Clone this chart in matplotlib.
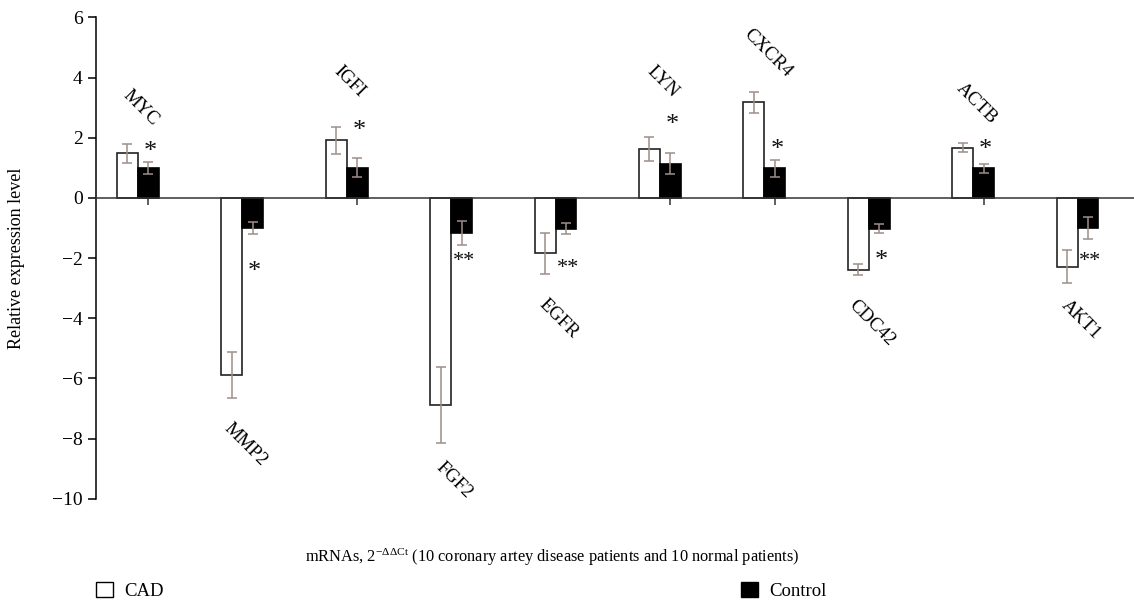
import matplotlib
matplotlib.use("Agg")
import matplotlib.pyplot as plt
from matplotlib.patches import Patch
from matplotlib.transforms import offset_copy
import numpy as np

plt.rcParams['font.family'] = ['Liberation Serif', 'DejaVu Serif']
plt.rcParams['mathtext.fontset'] = 'custom'
plt.rcParams['mathtext.rm'] = 'Liberation Serif'
plt.rcParams['mathtext.it'] = 'Liberation Serif:italic'

genes = ['MYC', 'MMP2', 'IGFI', 'FGF2', 'EGFR', 'LYN', 'CXCR4', 'CDC42', 'ACTB', 'AKT1']
cad = [1.48, -5.88, 1.92, -6.88, -1.84, 1.63, 3.18, -2.38, 1.67, -2.28]
cad_err = [0.31, 0.77, 0.45, 1.25, 0.69, 0.39, 0.35, 0.18, 0.15, 0.55]
control = [1.0, -1.0, 1.0, -1.17, -1.02, 1.14, 0.99, -1.02, 0.99, -0.99]
control_err = [0.2, 0.21, 0.32, 0.4, 0.19, 0.36, 0.28, 0.15, 0.15, 0.36]
stars = ['*', '*', '*', '**', '**', '*', '*', '*', '*', '**']
star_y = [1.73, -2.28, 2.43, -1.95, -2.17, 2.61, 1.79, -1.89, 1.79, -1.95]
label_y = [2.99, -8.2, 3.86, -9.37, -4.0, 3.86, 4.8, -4.17, 3.15, -4.05]

x = np.arange(len(genes))
w = 0.2
errcol = '#9e8e8a'

fig = plt.figure(figsize=(11.34, 6.01), dpi=100)
ax = fig.add_axes([0.0847, 0.170, 0.9153, 0.801])

ax.bar(x - w / 2, cad, w, color='white', edgecolor='#222222', linewidth=1.2, zorder=2)
ax.bar(x + w / 2, control, w, color='black', edgecolor='black', linewidth=1.2, zorder=2)
ax.errorbar(x - w / 2, cad, yerr=cad_err, fmt='none', ecolor=errcol, elinewidth=1.1,
            capsize=3.5, capthick=1.1, zorder=3)
ax.errorbar(x + w / 2, control, yerr=control_err, fmt='none', ecolor=errcol, elinewidth=1.1,
            capsize=3.5, capthick=1.1, zorder=3)

for i in range(len(genes)):
    fs = 19 if stars[i] == '*' else 16
    tr = offset_copy(ax.transData, fig=fig, x=0, y=-0.22 * fs, units='points')
    ax.text(x[i] + 0.12, star_y[i], stars[i], ha='center', va='center', fontsize=fs,
            transform=tr, color='#111111')
    ax.text(x[i] + 0.03, label_y[i], genes[i], ha='center', va='center', rotation=-45,
            rotation_mode='anchor', fontsize=13.5)

ax.set_xlim(-0.40, 9.54)
ax.set_ylim(-10, 6)
ax.set_yticks(np.arange(-10, 7, 2))
ax.tick_params(axis='y', labelsize=14, length=6, width=1.1, direction='out')
ax.set_xticks(x + 0.1)
ax.set_xticklabels([])
ax.tick_params(axis='x', length=5, width=1.1, direction='out', color='#333333')

ax.spines['top'].set_visible(False)
ax.spines['right'].set_visible(False)
ax.spines['bottom'].set_position(('data', 0))
ax.spines['bottom'].set_color('#333333')
ax.spines['bottom'].set_linewidth(1.1)
ax.spines['left'].set_linewidth(1.1)

ax.set_ylabel('Relative expression level', fontsize=13)
ax.yaxis.set_label_coords(-0.068, 0.5)
fig.text(0.487, 0.073,
         'mRNAs, 2$^{\\mathrm{\u2212\\Delta\\Delta Ct}}$ (10 coronary artey disease patients and 10 normal patients)',
         ha='center', va='center', fontsize=11.8)

handles = [Patch(facecolor='white', edgecolor='black', linewidth=1),
           Patch(facecolor='black', edgecolor='black', linewidth=1)]
fig.legend(handles, ['CAD', 'Control'], loc='center left', bbox_to_anchor=(0.070, 0.017),
           ncol=2, frameon=False, fontsize=13.5, handlelength=0.9, handleheight=0.9,
           handletextpad=0.6, columnspacing=30.8)

fig.savefig('out.png', dpi=100)
